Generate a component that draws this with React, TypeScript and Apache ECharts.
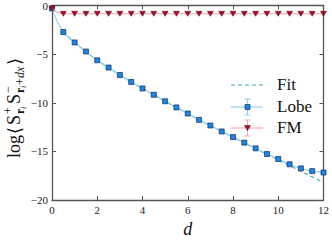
import React, { useEffect, useRef } from "react";
import * as echarts from "echarts";

const dValues = [0, 0.5, 1, 1.5, 2, 2.5, 3, 3.5, 4, 4.5, 5, 5.5, 6, 6.5, 7, 7.5, 8, 8.5, 9, 9.5, 10, 10.5, 11, 11.5, 12];
const lobeValues = [-0.3, -2.73, -3.8, -4.73, -5.63, -6.38, -7.15, -7.86, -8.53, -9.18, -9.85, -10.48, -11.11, -11.76, -12.34, -12.95, -13.53, -14.1, -14.69, -15.27, -15.78, -16.33, -16.75, -17.03, -17.17];
const fmValues = [-0.3, -0.85, -0.85, -0.85, -0.85, -0.85, -0.85, -0.85, -0.85, -0.85, -0.85, -0.85, -0.85, -0.85, -0.85, -0.85, -0.85, -0.85, -0.85, -0.85, -0.85, -0.85, -0.85, -0.85, -0.85];
const fitD = [0.5, 1, 1.5, 2, 2.5, 3, 3.5, 4, 4.5, 5, 5.5, 6, 6.5, 7, 7.5, 8, 8.5, 9, 9.5, 10, 10.5, 11, 11.5, 12];
const fitValues = [-2.73, -3.8, -4.73, -5.63, -6.38, -7.15, -7.86, -8.53, -9.18, -9.85, -10.48, -11.11, -11.76, -12.34, -12.95, -13.55, -14.13, -14.72, -15.3, -15.88, -16.46, -17.04, -17.62, -18.2];
const xTicks = [0, 2, 4, 6, 8, 10, 12];
const yTicks = [-20, -15, -10, -5, 0];
const legendNames = ["Fit", "Lobe", "FM"];

const SERIF = "Liberation Serif";
const AXIS_COLOR = "#555555";
const LOBE_LINE = "#8dcdef";
const LOBE_MARK = "#2585dc";
const LOBE_EDGE = "#0b2f5c";
const FIT_COLOR = "#3ea6b4";
const FM_LINE = "#f3a0b2";
const FM_MARK = "#a3102c";
const FM_EDGE = "#4a0612";

const minus = (v: number) => String(v).replace("-", "\u2212");

export default function App() {
  const ref = useRef<HTMLDivElement>(null);
  useEffect(() => {
    if (!ref.current) return;
    const chart = echarts.init(ref.current, undefined, { renderer: "svg" });
    const ls = 18;
    const ss = 12;
    const sss = 8;
    const t = (text: string, x: number, y: number, size: number, extra: any = {}) => ({
      type: "text", x, y,
      style: { text, fontSize: size, fontFamily: SERIF, fill: "#111", textVerticalAlign: "middle", verticalAlign: "middle", ...extra },
    });
    const yLabelChildren: any[] = [
      t("log", 0, 0, ls),
      t("\u27E8", 24, 0, ls, { fontFamily: "DejaVu Serif" }),
      t("S", 33, 0, ls),
      t("+", 44, -6, ss),
      t("r", 44, 6, ss, { fontWeight: "bold" }),
      t("i", 49, 9, sss, { fontStyle: "italic" }),
      t("S", 54, 0, ls),
      t("\u2212", 65, -6, ss),
      t("r", 65, 6, ss, { fontWeight: "bold" }),
      t("i", 70, 9, sss, { fontStyle: "italic" }),
      t("+", 73, 6, ss),
      t("dx", 80, 6, ss, { fontStyle: "italic" }),
      t("\u27E9", 93, 0, ls, { fontFamily: "DejaVu Serif" }),
    ];
    const legendText = (name: string, y: number) => t(name, 277, y, 17);
    const errBar = (cy: number, color: string) => [
      { type: "line", shape: { x1: 247.5, y1: cy - 8, x2: 247.5, y2: cy + 8 }, style: { stroke: color, lineWidth: 1 } },
      { type: "line", shape: { x1: 244.5, y1: cy - 8, x2: 250.5, y2: cy - 8 }, style: { stroke: color, lineWidth: 1 } },
      { type: "line", shape: { x1: 244.5, y1: cy + 8, x2: 250.5, y2: cy + 8 }, style: { stroke: color, lineWidth: 1 } },
    ];
    chart.setOption({
      animation: false,
      backgroundColor: "#ffffff",
      textStyle: { fontFamily: SERIF },
      grid: { left: 52, right: 6, top: 5, bottom: 31, containLabel: false },
      xAxis: [
        {
          type: "value", min: 0, max: 12, interval: 2,
          name: "d", nameLocation: "middle", nameGap: 20,
          nameTextStyle: { fontFamily: SERIF, fontStyle: "italic", fontSize: 18, color: "#111" },
          axisLine: { show: true, onZero: false, lineStyle: { color: AXIS_COLOR, width: 1.3 } },
          axisTick: { show: true, inside: true, length: 4, lineStyle: { color: AXIS_COLOR } },
          axisLabel: { fontFamily: SERIF, fontSize: 11, color: "#222", margin: 4, formatter: (v: number) => (xTicks.includes(v) ? minus(v) : "") },
          splitLine: { show: false },
        },
        {
          type: "value", min: 0, max: 12, interval: 2, position: "top",
          axisLine: { show: true, onZero: false, lineStyle: { color: AXIS_COLOR, width: 1.3 } },
          axisTick: { show: true, inside: true, length: 4, lineStyle: { color: AXIS_COLOR } },
          axisLabel: { show: false },
          splitLine: { show: false },
        },
      ],
      yAxis: [
        {
          type: "value", min: -20, max: 0, interval: 5,
          axisLine: { show: true, onZero: false, lineStyle: { color: AXIS_COLOR, width: 1.3 } },
          axisTick: { show: true, inside: true, length: 4, lineStyle: { color: AXIS_COLOR } },
          axisLabel: { fontFamily: SERIF, fontSize: 11, color: "#222", margin: 4, formatter: (v: number) => (yTicks.includes(v) ? minus(v) : "") },
          splitLine: { show: false },
        },
        {
          type: "value", min: -20, max: 0, interval: 5, position: "right",
          axisLine: { show: true, onZero: false, lineStyle: { color: AXIS_COLOR, width: 1.3 } },
          axisTick: { show: true, inside: true, length: 4, lineStyle: { color: AXIS_COLOR } },
          axisLabel: { show: false },
          splitLine: { show: false },
        },
      ],
      series: [
        {
          name: legendNames[0], type: "line", xAxisIndex: 0, yAxisIndex: 0,
          data: fitD.map((d, i) => [d, fitValues[i]]), smooth: true, showSymbol: false,
          lineStyle: { color: FIT_COLOR, width: 1.1, type: [4, 3] }, z: 3,
        },
        {
          name: legendNames[1], type: "line", xAxisIndex: 0, yAxisIndex: 0,
          data: dValues.map((d, i) => [d, lobeValues[i]]), smooth: true,
          symbol: "rect", symbolSize: 5,
          lineStyle: { color: LOBE_LINE, width: 1.1 },
          itemStyle: { color: LOBE_MARK, borderColor: LOBE_EDGE, borderWidth: 0.7 }, z: 4,
        },
        {
          name: legendNames[2], type: "line", xAxisIndex: 0, yAxisIndex: 0,
          data: dValues.map((d, i) => [d, fmValues[i]]), smooth: true,
          symbol: "triangle", symbolRotate: 180, symbolSize: [6, 5],
          lineStyle: { color: FM_LINE, width: 1.1 },
          itemStyle: { color: FM_MARK, borderColor: FM_EDGE, borderWidth: 0.5 }, z: 5,
        },
      ],
      graphic: [
        { type: "group", x: 14, y: 158, rotation: Math.PI / 2, children: yLabelChildren },
        { type: "line", shape: { x1: 231, y1: 85, x2: 263, y2: 85 }, style: { stroke: FIT_COLOR, lineWidth: 1.1, lineDash: [4, 3] } },
        legendText(legendNames[0], 84),
        { type: "line", shape: { x1: 231, y1: 107, x2: 263, y2: 107 }, style: { stroke: LOBE_LINE, lineWidth: 1.1 } },
        ...errBar(107, LOBE_LINE),
        { type: "rect", shape: { x: 245, y: 104.5, width: 5, height: 5 }, style: { fill: LOBE_MARK, stroke: LOBE_EDGE, lineWidth: 0.7 } },
        legendText(legendNames[1], 106),
        { type: "line", shape: { x1: 231, y1: 128, x2: 263, y2: 128 }, style: { stroke: FM_LINE, lineWidth: 1.1 } },
        ...errBar(128, FM_LINE),
        { type: "polygon", shape: { points: [[244.5, 125.5], [250.5, 125.5], [247.5, 130.5]] }, style: { fill: FM_MARK, stroke: FM_EDGE, lineWidth: 0.5 } },
        legendText(legendNames[2], 127),
      ],
    });
    return () => chart.dispose();
  }, []);
  return <div ref={ref} style={{ width: 332, height: 243, position: "absolute", left: 0, top: 0 }} />;
}
